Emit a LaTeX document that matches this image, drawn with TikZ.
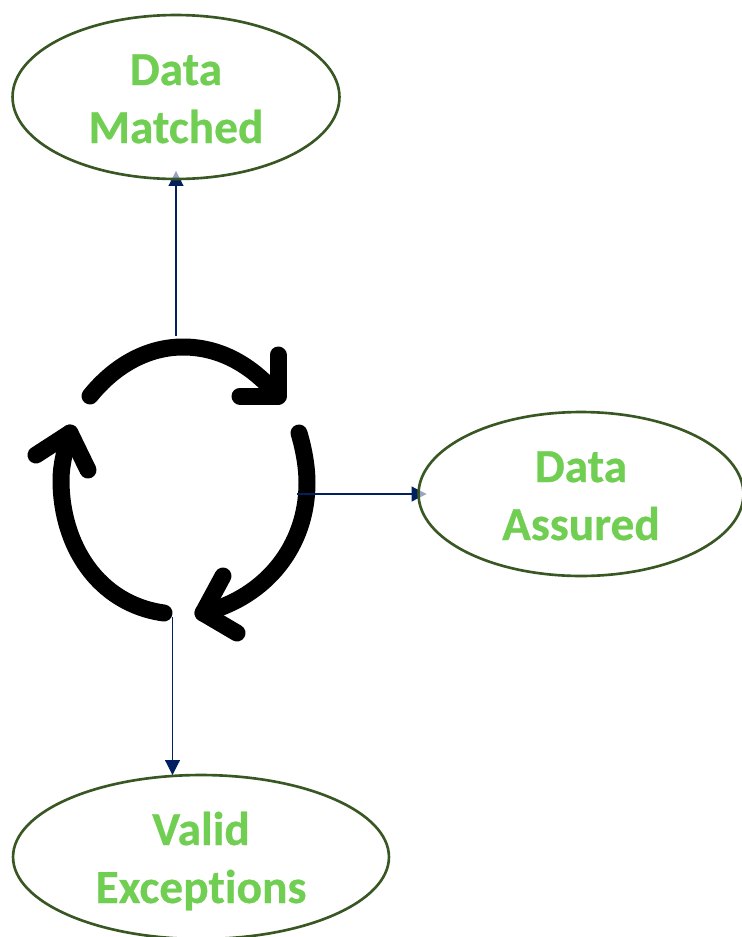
\documentclass[tikz,border=0pt]{standalone}
\usepackage{fontspec}
\setmainfont{Carlito}[Ligatures=NoCommon,BoldFeatures={FakeBold=0.5}]
\usetikzlibrary{arrows.meta,shapes.geometric,backgrounds}
\definecolor{ringgreen}{HTML}{385723}
\definecolor{labelgreen}{HTML}{70CE52}
\definecolor{linknavy}{HTML}{002060}
\tikzset{
	outcome/.style={ellipse, draw=ringgreen, line width=1.5pt, fill=white, fill opacity=0.6, text opacity=1, text=labelgreen, inner sep=0pt, outer sep=0pt, minimum height=3.28cm, align=center, font=\fontsize{27}{33}\selectfont\bfseries},
	cyclearc/.style={black, line width=0.34cm, line cap=round, line join=round},
	outlink/.style={linknavy, line width=0.6pt, -{Triangle[width=0.3cm,length=0.3cm]}, shorten >=-0.16cm},
}
\begin{document}
\begin{tikzpicture}[x=0.02cm, y=-0.02cm]
		\useasboundingbox (0,0) rectangle (741,937);
		\node[outcome, minimum width=6.54cm] (matched) at (176,97) {\rule{0pt}{19.6pt}Data\\Matched};
		\node[outcome, minimum width=6.5cm] (assured) at (581,494) {\rule{0pt}{19.6pt}Data\\Assured};
		\node[outcome, minimum width=7.52cm] (exceptions) at (201,857) {\rule{0pt}{23.6pt}Valid\\Exceptions};
		\coordinate (topstart) at (176,336);
		\coordinate (rightstart) at (297,494);
		\coordinate (bottomstart) at (172.5,617);
		\begin{scope}[on background layer]
		% the three arcs
		\draw[cyclearc] (90,396) .. controls (115,365) and (148,347) .. (183,347) .. controls (220,347) and (252,365) .. (278,396);
		\draw[cyclearc] (240,396) -- (278,396) -- (278,355);
		\draw[cyclearc] (299,433) .. controls (304,450) and (307,467) .. (307,483) .. controls (307,545) and (267,597) .. (203,613);
		\draw[cyclearc] (223,576) -- (203,613) -- (237,633);
		\draw[cyclearc] (164,613) .. controls (98,604) and (61,545) .. (61,480) .. controls (61,465) and (65,450) .. (70,433);
		\draw[cyclearc] (36,455) -- (70,433) -- (88,470);
		% links to the outcomes
		\draw[outlink] (topstart) -- (matched.south);
		\draw[outlink] (rightstart) -- (assured.west);
		\draw[outlink, shorten >=0pt] (bottomstart) -- (bottomstart |- exceptions.north);
		\end{scope}
	\end{tikzpicture}
\end{document}
